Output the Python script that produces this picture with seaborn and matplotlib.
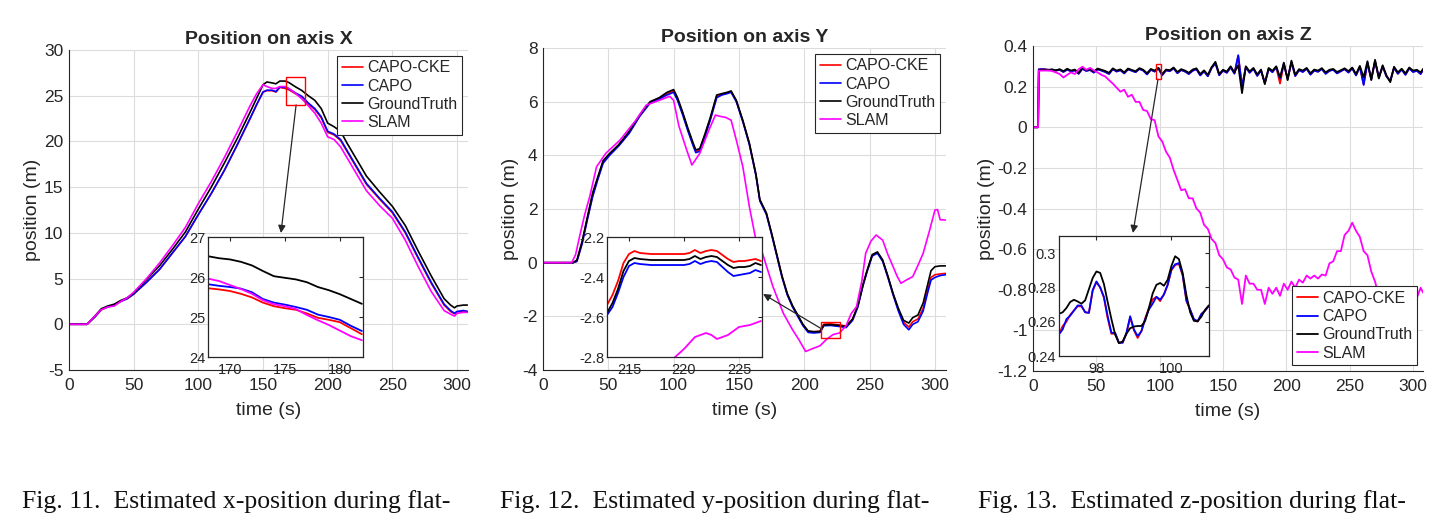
import numpy as np
import pandas as pd
import seaborn as sns
import matplotlib.pyplot as plt
from matplotlib.patches import Rectangle

sns.set_style("white")
plt.rcParams['font.family'] = ['Liberation Sans', 'DejaVu Sans']
plt.rcParams['axes.unicode_minus'] = False

names = ['CAPO-CKE', 'CAPO', 'GroundTruth', 'SLAM']
colors = ['#ff0000', '#0000ff', '#000000', '#ff00ff']

# ---------------- axis X ----------------
x_t = [0, 14, 20, 25, 30, 35, 40, 45, 50, 60, 70, 80, 90, 100, 110, 120, 130, 140, 145, 150,
       153, 157, 160, 163, 167, 170, 175, 180, 185, 190, 195, 200, 205, 210, 215, 220, 230, 240,
       250, 260, 270, 280, 290, 295, 298, 300, 305, 308]
x_gt = [0, 0, 0.9, 1.7, 2.0, 2.2, 2.6, 2.9, 3.4, 4.9, 6.4, 8.2, 10.1, 12.6, 15.0, 17.6, 20.3, 23.2, 24.7, 26.2,
        26.5, 26.4, 26.3, 26.6, 26.6, 26.44, 25.98, 25.57, 25.0, 24.5, 23.6, 22.0, 21.6, 21.1, 19.8, 18.6, 16.2, 14.5,
        12.9, 10.8, 8.0, 5.3, 2.8, 2.1, 1.8, 2.0, 2.1, 2.1]
x_capo = [0, 0, 0.8, 1.6, 1.9, 2.1, 2.5, 2.8, 3.3, 4.6, 6.0, 7.8, 9.6, 12.0, 14.3, 16.8, 19.6, 22.5, 24.0, 25.4,
          25.6, 25.6, 25.45, 25.95, 25.9, 25.75, 25.31, 24.93, 24.2, 23.6, 22.7, 21.1, 20.8, 20.2, 19.0, 17.8, 15.4, 13.8,
          12.3, 10.1, 7.3, 4.6, 2.2, 1.5, 1.2, 1.4, 1.5, 1.4]
x_cke = [0, 0, 0.8, 1.6, 1.9, 2.1, 2.5, 2.8, 3.3, 4.6, 6.0, 7.8, 9.6, 12.0, 14.3, 16.8, 19.6, 22.5, 24.0, 25.4,
         25.55, 25.55, 25.4, 25.9, 25.8, 25.65, 25.22, 24.87, 24.1, 23.5, 22.6, 21.0, 20.7, 20.1, 18.9, 17.7, 15.3, 13.7,
         12.2, 10.0, 7.2, 4.5, 2.1, 1.4, 1.15, 1.35, 1.45, 1.4]
x_slam = [0, 0, 0.9, 1.6, 1.9, 2.0, 2.5, 2.9, 3.5, 5.0, 6.7, 8.6, 10.6, 13.2, 15.6, 18.2, 21.0, 23.9, 25.2, 26.2,
          26.0, 25.8, 25.8, 26.0, 26.0, 25.8, 25.27, 24.66, 23.9, 23.1, 22.0, 20.5, 20.2, 19.4, 18.2, 17.0, 14.6, 13.0,
          11.6, 9.2, 6.3, 3.6, 1.5, 1.1, 0.9, 1.2, 1.3, 1.3]
# zoomed window of axis X
xi_t = [168, 169, 170, 171, 172, 173, 174, 175, 176, 177, 178, 179, 180, 181, 182]
xi_gt = [26.52, 26.47, 26.44, 26.38, 26.29, 26.15, 26.02, 25.98, 25.94, 25.87, 25.75, 25.67, 25.57, 25.45, 25.33]
xi_capo = [25.82, 25.78, 25.75, 25.71, 25.62, 25.45, 25.36, 25.31, 25.25, 25.18, 25.06, 25.0, 24.93, 24.78, 24.65]
xi_cke = [25.72, 25.69, 25.65, 25.58, 25.49, 25.36, 25.27, 25.22, 25.18, 25.09, 24.98, 24.93, 24.87, 24.72, 24.57]
xi_slam = [25.96, 25.9, 25.8, 25.7, 25.58, 25.42, 25.32, 25.27, 25.2, 25.05, 24.92, 24.8, 24.66, 24.52, 24.42]

# ---------------- axis Y ----------------
y_t = [0, 23, 26, 30, 34, 38, 42, 46, 51, 58, 66, 74, 82, 89, 95, 100, 103, 107, 111, 115,
       117, 120, 124, 128, 133, 137, 141, 144, 148, 153, 158, 163, 166, 171, 175, 179, 183, 187, 191, 195,
       199, 203, 207, 212, 215, 220, 227, 232, 237, 241, 245, 248, 252, 256, 260, 264, 268, 272, 276, 280,
       283, 287, 291, 294, 297, 300, 304, 308]
y_gt = [0, 0, 0.1, 0.8, 1.7, 2.6, 3.2, 3.8, 4.07, 4.4, 4.9, 5.5, 6.0, 6.15, 6.35, 6.45, 6.15, 5.6, 5.0, 4.45,
        4.2, 4.25, 4.8, 5.4, 6.25, 6.3, 6.35, 6.4, 6.05, 5.3, 4.45, 3.3, 2.35, 1.85, 1.1, 0.3, -0.5, -1.15, -1.6, -1.95,
        -2.3, -2.55, -2.57, -2.57, -2.32, -2.31, -2.34, -2.38, -2.1, -1.6, -0.8, -0.3, 0.3, 0.4, 0.1, -0.5, -1.15, -1.7, -2.15, -2.25,
        -2.05, -1.95, -1.5, -0.9, -0.3, -0.15, -0.12, -0.12]
y_capo = [0, 0, 0.05, 0.7, 1.6, 2.45, 3.1, 3.7, 4.0, 4.35, 4.82, 5.45, 5.95, 6.1, 6.25, 6.35, 6.05, 5.5, 4.9, 4.35,
          4.1, 4.15, 4.7, 5.3, 6.15, 6.25, 6.3, 6.35, 6.0, 5.25, 4.4, 3.25, 2.3, 1.8, 1.05, 0.25, -0.55, -1.2, -1.65, -2.0,
          -2.35, -2.6, -2.62, -2.6, -2.35, -2.34, -2.38, -2.42, -2.15, -1.65, -0.85, -0.35, 0.25, 0.35, 0.05, -0.55, -1.2, -1.8, -2.3, -2.5,
          -2.3, -2.2, -1.8, -1.2, -0.65, -0.55, -0.48, -0.45]
y_cke = [0, 0, 0.05, 0.75, 1.65, 2.5, 3.15, 3.75, 4.03, 4.37, 4.85, 5.47, 5.97, 6.12, 6.3, 6.4, 6.1, 5.55, 4.95, 4.4,
         4.15, 4.2, 4.75, 5.35, 6.2, 6.27, 6.33, 6.38, 6.02, 5.28, 4.42, 3.28, 2.33, 1.83, 1.08, 0.28, -0.52, -1.18, -1.62, -1.97,
         -2.32, -2.55, -2.58, -2.55, -2.29, -2.28, -2.32, -2.36, -2.1, -1.62, -0.82, -0.32, 0.28, 0.38, 0.08, -0.52, -1.18, -1.75, -2.22, -2.4,
         -2.2, -2.1, -1.7, -1.1, -0.55, -0.45, -0.42, -0.4]
ys_t = [0, 22, 25, 28, 32, 36, 41, 48, 59, 71, 79, 89, 97, 100, 104, 110, 114, 120, 127, 132,
        136, 140, 144, 148, 153, 158, 163, 168, 176, 184, 191, 196, 201, 204, 207, 212, 217, 222, 227, 232,
        236, 240, 244, 247, 251, 255, 260, 264, 268, 271, 274, 278, 283, 287, 291, 296, 300, 302, 304, 308]
y_slam = [0, 0, 0.3, 0.97, 1.8, 2.5, 3.57, 4.07, 4.57, 5.3, 5.87, 6.05, 6.2, 6.05, 5.1, 4.2, 3.64, 4.07, 4.94, 5.5,
          5.45, 5.41, 5.31, 4.57, 3.57, 2.08, 0.84, 0.35, -0.89, -1.89, -2.5, -2.88, -3.31, -3.25, -3.19, -3.1, -2.86, -2.68, -2.62, -2.35,
          -1.89, -1.64, -0.7, 0.35, 0.8, 1.03, 0.84, 0.3, -0.15, -0.5, -0.77, -0.65, -0.52, -0.1, 0.35, 1.22, 1.96, 1.98, 1.6, 1.59]
# zoomed window of axis Y
yi_t = [213, 213.5, 214, 214.5, 215, 215.5, 216, 217, 218, 219, 220, 220.5, 221, 221.5, 222, 222.5, 223, 223.5,
        224, 224.5, 225, 225.5, 226, 226.5, 227]
yi_gt = [-2.58, -2.53, -2.46, -2.37, -2.32, -2.305, -2.31, -2.315, -2.315, -2.315, -2.315, -2.31, -2.295, -2.31,
         -2.30, -2.295, -2.30, -2.32, -2.34, -2.355, -2.35, -2.35, -2.345, -2.33, -2.34]
yi_capo = [-2.59, -2.55, -2.48, -2.40, -2.345, -2.33, -2.335, -2.34, -2.34, -2.34, -2.34, -2.335, -2.32, -2.335,
           -2.325, -2.32, -2.325, -2.35, -2.375, -2.395, -2.39, -2.385, -2.38, -2.365, -2.375]
yi_cke = [-2.54, -2.49, -2.42, -2.33, -2.285, -2.27, -2.28, -2.285, -2.285, -2.285, -2.285, -2.28, -2.265, -2.28,
          -2.27, -2.265, -2.27, -2.29, -2.31, -2.325, -2.32, -2.32, -2.315, -2.31, -2.32]
yi_slam = [-2.95, -2.94, -2.93, -2.92, -2.9, -2.89, -2.88, -2.86, -2.84, -2.81, -2.76, -2.73, -2.70, -2.69,
           -2.68, -2.69, -2.71, -2.70, -2.69, -2.67, -2.65, -2.645, -2.64, -2.63, -2.62]

# ---------------- axis Z ----------------
z_t = [0, 4, 4.6] + list(range(6, 307, 3)) + [308]
z_gt = [0, 0, 0.28,
        0.282, 0.284, 0.281, 0.285, 0.280, 0.286, 0.276, 0.288, 0.279, 0.284,
        0.268, 0.292, 0.281, 0.286, 0.274, 0.289, 0.283, 0.277, 0.268, 0.290,
        0.279, 0.285, 0.270, 0.289, 0.282, 0.276, 0.291, 0.283, 0.266, 0.287,
        0.279, 0.293, 0.262, 0.284, 0.281, 0.294, 0.272, 0.286, 0.279, 0.268,
        0.284, 0.290, 0.262, 0.280, 0.258, 0.296, 0.322, 0.262, 0.283, 0.274,
        0.300, 0.270, 0.305, 0.168, 0.300, 0.275, 0.292, 0.260, 0.284, 0.212,
        0.292, 0.278, 0.300, 0.245, 0.318, 0.232, 0.328, 0.258, 0.286, 0.279,
        0.292, 0.266, 0.284, 0.279, 0.291, 0.270, 0.283, 0.287, 0.272, 0.281,
        0.290, 0.276, 0.294, 0.262, 0.302, 0.245, 0.325, 0.232, 0.332, 0.240,
        0.305, 0.255, 0.222, 0.298, 0.270, 0.288, 0.265, 0.294, 0.279, 0.283,
        0.270, 0.288]
z_capo = [0, 0, 0.285,
          0.286, 0.285, 0.283, 0.283, 0.279, 0.283, 0.272, 0.284, 0.275, 0.280,
          0.263, 0.288, 0.277, 0.282, 0.269, 0.285, 0.279, 0.272, 0.262, 0.286,
          0.274, 0.281, 0.265, 0.285, 0.278, 0.271, 0.287, 0.279, 0.260, 0.283,
          0.274, 0.289, 0.256, 0.280, 0.276, 0.290, 0.266, 0.282, 0.274, 0.262,
          0.278, 0.286, 0.255, 0.275, 0.251, 0.292, 0.315, 0.256, 0.279, 0.268,
          0.295, 0.264, 0.355, 0.200, 0.296, 0.268, 0.288, 0.253, 0.279, 0.218,
          0.287, 0.271, 0.296, 0.240, 0.312, 0.238, 0.320, 0.252, 0.281, 0.272,
          0.288, 0.259, 0.279, 0.273, 0.287, 0.263, 0.278, 0.283, 0.265, 0.276,
          0.286, 0.269, 0.290, 0.255, 0.298, 0.208, 0.318, 0.236, 0.325, 0.245,
          0.300, 0.250, 0.228, 0.293, 0.263, 0.284, 0.258, 0.290, 0.272, 0.278,
          0.262, 0.284]
z_cke = [0, 0, 0.285,
         0.286, 0.285, 0.283, 0.283, 0.279, 0.283, 0.273, 0.284, 0.276, 0.280,
         0.264, 0.288, 0.278, 0.282, 0.270, 0.285, 0.280, 0.273, 0.263, 0.286,
         0.275, 0.281, 0.266, 0.285, 0.279, 0.272, 0.287, 0.280, 0.261, 0.283,
         0.275, 0.289, 0.257, 0.280, 0.277, 0.290, 0.267, 0.282, 0.275, 0.263,
         0.279, 0.286, 0.256, 0.276, 0.252, 0.292, 0.315, 0.257, 0.279, 0.269,
         0.295, 0.265, 0.350, 0.202, 0.296, 0.269, 0.288, 0.254, 0.279, 0.219,
         0.287, 0.272, 0.296, 0.215, 0.312, 0.239, 0.320, 0.253, 0.281, 0.273,
         0.288, 0.260, 0.279, 0.274, 0.287, 0.264, 0.278, 0.283, 0.266, 0.277,
         0.286, 0.270, 0.290, 0.256, 0.298, 0.212, 0.318, 0.237, 0.325, 0.246,
         0.300, 0.251, 0.229, 0.293, 0.264, 0.284, 0.259, 0.290, 0.273, 0.278,
         0.263, 0.284]
z_slam = [0, 0, 0.278,
          0.279, 0.279, 0.279, 0.277, 0.270, 0.262, 0.245, 0.258, 0.270, 0.262,
          0.285, 0.298, 0.283, 0.292, 0.280, 0.270, 0.258, 0.250, 0.232, 0.215,
          0.195, 0.175, 0.185, 0.150, 0.160, 0.125, 0.125, 0.085, 0.080, 0.040,
          0.035, -0.045, -0.070, -0.120, -0.150, -0.210, -0.260, -0.310, -0.305, -0.350,
          -0.350, -0.400, -0.420, -0.480, -0.500, -0.550, -0.570, -0.630, -0.650, -0.690,
          -0.700, -0.740, -0.750, -0.870, -0.730, -0.770, -0.770, -0.800, -0.800, -0.870,
          -0.790, -0.820, -0.790, -0.830, -0.770, -0.800, -0.760, -0.790, -0.750, -0.765,
          -0.730, -0.745, -0.730, -0.745, -0.725, -0.730, -0.670, -0.660, -0.610, -0.610,
          -0.530, -0.510, -0.470, -0.510, -0.540, -0.610, -0.630, -0.710, -0.760, -0.830,
          -0.820, -0.835, -0.820, -0.835, -0.820, -0.815, -0.825, -0.800, -0.815, -0.840,
          -0.790, -0.815]
# zoomed window of axis Z
zi_t = [97.0, 97.1, 97.2, 97.3, 97.4, 97.5, 97.6, 97.7, 97.8, 97.9, 98.0, 98.1, 98.2, 98.3, 98.4, 98.5, 98.6,
        98.7, 98.8, 98.9, 99.0, 99.1, 99.2, 99.3, 99.4, 99.5, 99.6, 99.7, 99.8, 99.9, 100.0, 100.1, 100.2,
        100.3, 100.4, 100.5, 100.6, 100.7, 100.8, 100.9, 101.0]
zi_gt = [0.2646, 0.2655, 0.268, 0.2715, 0.2728, 0.2718, 0.2705, 0.2725, 0.279, 0.2855, 0.2893, 0.2885, 0.282,
         0.2715, 0.2615, 0.2525, 0.2475, 0.2485, 0.253, 0.2562, 0.2572, 0.2575, 0.2575, 0.2605, 0.268, 0.2765,
         0.2815, 0.2826, 0.281, 0.2845, 0.2925, 0.2982, 0.2965, 0.2885, 0.2755, 0.2655, 0.2605, 0.2603, 0.263,
         0.267, 0.2695]
zi_capo = [0.2526, 0.2555, 0.2615, 0.2635, 0.2665, 0.2695, 0.2694, 0.2655, 0.2652, 0.2785, 0.2835, 0.28, 0.2745,
           0.2632, 0.2535, 0.2535, 0.2477, 0.2477, 0.2535, 0.2632, 0.2555, 0.2516, 0.2545, 0.2614, 0.2671, 0.2705,
           0.2745, 0.2729, 0.2758, 0.2815, 0.2905, 0.2935, 0.2942, 0.2874, 0.2725, 0.2671, 0.2615, 0.2603, 0.2645,
           0.2665, 0.2694]
zi_cke = [0.2526, 0.2575, 0.26, 0.264, 0.2665, 0.269, 0.269, 0.2655, 0.2652, 0.278, 0.283, 0.28, 0.274,
          0.262, 0.253, 0.253, 0.2477, 0.248, 0.253, 0.2625, 0.255, 0.2505, 0.2545, 0.262, 0.268, 0.273,
          0.2745, 0.272, 0.276, 0.2815, 0.29, 0.293, 0.2938, 0.287, 0.272, 0.267, 0.261, 0.26, 0.2645,
          0.2665, 0.2694]

# window limits, ticks, titles
panels = [
    dict(title='Position on axis X', pos=[0.0476, 0.3019, 0.2754, 0.6038], xlim=(0, 308.5), ylim=(-5, 30),
         yticks=[-5, 0, 5, 10, 15, 20, 25, 30], lw=1.2,
         main=[(x_t, x_cke), (x_t, x_capo), (x_t, x_gt), (x_t, x_slam)],
         ipos=[0.1435, 0.3264, 0.107, 0.2264], ixlim=(168, 182.1), iylim=(24, 27),
         ixticks=[170, 175, 180], iyticks=[24, 25, 26, 27],
         inset=[(xi_t, xi_cke), (xi_t, xi_capo), (xi_t, xi_gt), (xi_t, xi_slam)],
         arrow_from=(175.6, 24.0), arrow_to=(0.1939, 0.5604), leg=dict(loc='upper right')),
    dict(title='Position on axis Y', pos=[0.3747, 0.3019, 0.2781, 0.6075], xlim=(0, 308.4), ylim=(-4, 8),
         yticks=[-4, -2, 0, 2, 4, 6, 8], lw=1.2,
         main=[(y_t, y_cke), (y_t, y_capo), (y_t, y_gt), (ys_t, y_slam)],
         ipos=[0.4189, 0.3264, 0.107, 0.2264], ixlim=(213.0, 227.1), iylim=(-2.8, -2.2),
         ixticks=[215, 220, 225], iyticks=[-2.8, -2.6, -2.4, -2.2],
         inset=[(yi_t, yi_cke), (yi_t, yi_capo), (yi_t, yi_gt), (yi_t, yi_slam)],
         arrow_from=(213.4, -2.47), arrow_to=(0.5266, 0.4453), leg=dict(loc='upper right')),
    dict(title='Position on axis Z', pos=[0.7129, 0.3, 0.2692, 0.6132], xlim=(0, 307.9), ylim=(-1.2, 0.4),
         yticks=[-1.2, -1, -0.8, -0.6, -0.4, -0.2, 0, 0.2, 0.4], lw=1.3,
         main=[(z_t, z_cke), (z_t, z_capo), (z_t, z_gt), (z_t, z_slam)],
         ipos=[0.7308, 0.3283, 0.1035, 0.2264], ixlim=(97, 101), iylim=(0.24, 0.31),
         ixticks=[98, 100], iyticks=[0.24, 0.26, 0.28, 0.3],
         inset=[(zi_t, zi_cke), (zi_t, zi_capo), (zi_t, zi_gt), (z_t, z_slam)],
         arrow_from=(98.7, 0.237), arrow_to=(0.7819, 0.5604), leg=dict(loc='lower right')),
]
captions = ['Fig. 11.  Estimated x-position during flat-',
            'Fig. 12.  Estimated y-position during flat-',
            'Fig. 13.  Estimated z-position during flat-']
caption_x = [0.015, 0.345, 0.675]

dark = '#262626'
fig = plt.figure(figsize=(14.49, 5.30), dpi=100)

for p in panels:
    ax = fig.add_axes(p['pos'])
    for (t, v), name, c in zip(p['main'], names, colors):
        sns.lineplot(x=t, y=v, ax=ax, color=c, lw=p['lw'], label=name, estimator=None, sort=False)
    ax.set_xlim(p['xlim'])
    ax.set_ylim(p['ylim'])
    ax.set_xticks([0, 50, 100, 150, 200, 250, 300])
    ax.set_yticks(p['yticks'])
    ax.set_yticklabels(['%g' % round(v, 2) for v in p['yticks']])
    ax.grid(True, color='#dcdcdc', lw=0.8)
    for s in ['top', 'right']:
        ax.spines[s].set_visible(False)
    for s in ['left', 'bottom']:
        ax.spines[s].set_color(dark)
        ax.spines[s].set_linewidth(0.8)
    ax.tick_params(direction='in', length=4, width=0.8, color=dark, labelcolor=dark, labelsize=12.5)
    ax.tick_params(axis='x', pad=6)
    ax.tick_params(axis='y', pad=4)
    ax.set_title(p['title'], fontweight='bold', fontsize=14, pad=4)
    ax.set_xlabel('time (s)', fontsize=14, color=dark, labelpad=6)
    ax.set_ylabel('position (m)', fontsize=14, color=dark, labelpad=2)
    leg = ax.legend(fontsize=11.5, frameon=True, fancybox=False, framealpha=1, edgecolor=dark,
                    borderaxespad=0.35, handlelength=1.3, handletextpad=0.3, labelspacing=0.2,
                    borderpad=0.3, **p['leg'])
    leg.get_frame().set_linewidth(0.8)
    for txt in leg.get_texts():
        txt.set_color(dark)

    # red box around the zoomed window
    x0, x1 = p['ixlim']
    y0, y1 = p['iylim']
    ax.add_patch(Rectangle((x0, y0), x1 - x0, y1 - y0, fill=False, ec='#ff0000', lw=1.0, zorder=5))
    ax.annotate('', xy=p['arrow_to'], xycoords='figure fraction', xytext=p['arrow_from'], textcoords='data',
                arrowprops=dict(arrowstyle='-|>', color=dark, lw=0.9, mutation_scale=11, shrinkA=0, shrinkB=0))

    # inset
    axi = fig.add_axes(p['ipos'])
    for (t, v), c in zip(p['inset'], colors):
        sns.lineplot(x=t, y=v, ax=axi, color=c, lw=1.3, estimator=None, sort=False, legend=False)
    axi.set_xlim(p['ixlim'])
    axi.set_ylim(p['iylim'])
    axi.set_xticks(p['ixticks'])
    axi.set_yticks(p['iyticks'])
    axi.set_yticklabels(['%g' % round(v, 3) for v in p['iyticks']])
    axi.set_xlabel('')
    axi.set_ylabel('')
    axi.set_facecolor('white')
    for s in axi.spines.values():
        s.set_color(dark)
        s.set_linewidth(0.9)
    axi.tick_params(direction='in', length=3, width=0.8, color=dark, labelcolor=dark, labelsize=10.5,
                    top=True, right=True, pad=2)
    axi.tick_params(axis='x', pad=4)

for cap, cx in zip(captions, caption_x):
    fig.text(cx, 0.042, cap, family='Liberation Serif', fontsize=18.5, color='#111111', va='baseline')

fig.savefig('out.png', dpi=100, facecolor='white')
